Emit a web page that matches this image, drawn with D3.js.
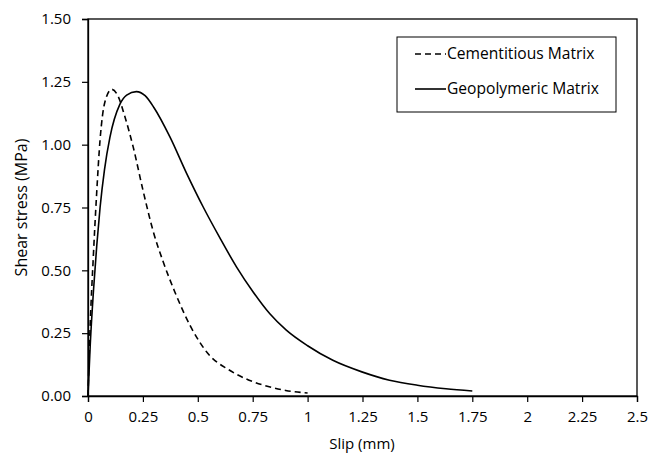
<!DOCTYPE html>
<html>
<head>
<meta charset="utf-8">
<script src="https://cdn.jsdelivr.net/npm/d3@7"></script>
<style>
  body { margin: 0; background: #fff; }
  svg { font-family: 'Open Sans', sans-serif; }
</style>
</head>
<body>
<div id="chart"></div>
<script>
// Slip (mm) / shear stress (MPa)
const cementSlip = [0, 0.009, 0.024, 0.039, 0.055, 0.077, 0.108, 0.138, 0.165, 0.206, 0.25, 0.297, 0.342, 0.395, 0.47, 0.55, 0.64, 0.72, 0.8, 0.9, 1.0];
const cementStress = [0, 0.26, 0.55, 0.8, 1.02, 1.17, 1.22, 1.191, 1.12, 0.99, 0.82, 0.655, 0.535, 0.415, 0.272, 0.165, 0.105, 0.068, 0.043, 0.022, 0.012];

const geoSlip = [0, 0.01, 0.025, 0.04, 0.055, 0.075, 0.1, 0.145, 0.176, 0.22, 0.26, 0.3, 0.373, 0.449, 0.524, 0.6, 0.676, 0.752, 0.827, 0.903, 1.0, 1.115, 1.247, 1.373, 1.5, 1.63, 1.75];
const geoStress = [0, 0.2, 0.42, 0.6, 0.75, 0.9, 1.03, 1.16, 1.197, 1.211, 1.195, 1.148, 1.031, 0.886, 0.753, 0.63, 0.514, 0.414, 0.328, 0.262, 0.2, 0.142, 0.096, 0.063, 0.043, 0.029, 0.02];

const xTicks = [0, 0.25, 0.5, 0.75, 1, 1.25, 1.5, 1.75, 2, 2.25, 2.5];
const yTicks = [0, 0.25, 0.5, 0.75, 1, 1.25, 1.5];

const seriesNames = ['Cementitious Matrix', 'Geopolymeric Matrix'];

const W = 650, H = 455;
const margin = { top: 19, right: 13, bottom: 59, left: 88 };
const width = W - margin.left - margin.right;
const height = H - margin.top - margin.bottom;

const svg = d3.select('#chart')
  .append('svg')
  .attr('width', W)
  .attr('height', H);

const g = svg.append('g')
  .attr('transform', `translate(${margin.left},${margin.top})`);

const x = d3.scaleLinear().domain([0, 2.5]).range([0, width]);
const y = d3.scaleLinear().domain([0, 1.5]).range([height, 0]);

// plot frame
g.append('rect')
  .attr('width', width)
  .attr('height', height)
  .attr('fill', 'none')
  .attr('stroke', '#000')
  .attr('stroke-width', 1.3);

// axes
const xAxis = g.append('g')
  .attr('transform', `translate(0,${height})`)
  .call(d3.axisBottom(x).tickValues(xTicks).tickSize(6).tickPadding(9)
    .tickFormat(d => String(d)));
const yAxis = g.append('g')
  .call(d3.axisLeft(y).tickValues(yTicks).tickSize(6).tickPadding(11)
    .tickFormat(d3.format('.2f')));

[xAxis, yAxis].forEach(a => {
  a.select('.domain').attr('stroke', '#000').attr('stroke-width', 1.3);
  a.selectAll('.tick line').attr('stroke', '#000').attr('stroke-width', 1.2);
  a.selectAll('.tick text')
    .attr('fill', '#000')
    .style('font-family', "'Open Sans', sans-serif")
    .style('font-size', '15px');
});

// axis titles
svg.append('text')
  .attr('x', margin.left + width / 2 - 0.5)
  .attr('y', 449)
  .attr('text-anchor', 'middle')
  .style('font-size', '15px')
  .text('Slip (mm)');

svg.append('text')
  .attr('transform', `translate(27,${margin.top + height / 2}) rotate(-90)`)
  .attr('text-anchor', 'middle')
  .style('font-size', '16px')
  .text('Shear stress (MPa)');

// curves
const line = d3.line()
  .x(d => x(d[0]))
  .y(d => y(d[1]))
  .curve(d3.curveMonotoneX);

const cement = cementSlip.map((s, i) => [s, cementStress[i]]);
const geo = geoSlip.map((s, i) => [s, geoStress[i]]);

g.append('path')
  .datum(geo)
  .attr('d', line)
  .attr('fill', 'none')
  .attr('stroke', '#000')
  .attr('stroke-width', 1.6);

g.append('path')
  .datum(cement)
  .attr('d', line)
  .attr('fill', 'none')
  .attr('stroke', '#000')
  .attr('stroke-width', 1.6)
  .attr('stroke-dasharray', '6,4');

// legend
const legend = svg.append('g').attr('transform', 'translate(397,37)');
legend.append('rect')
  .attr('width', 219)
  .attr('height', 75)
  .attr('fill', '#fff')
  .attr('stroke', '#000')
  .attr('stroke-width', 1);

seriesNames.forEach((name, i) => {
  const ly = 17 + i * 35;
  legend.append('line')
    .attr('x1', 18).attr('x2', 49)
    .attr('y1', ly).attr('y2', ly)
    .attr('stroke', '#000')
    .attr('stroke-width', 1.6)
    .attr('stroke-dasharray', i === 0 ? '6,4' : null);
  legend.append('text')
    .attr('x', 50)
    .attr('y', ly)
    .attr('dy', '0.35em')
    .style('font-size', '15.6px')
    .text(name);
});
</script>
</body>
</html>
